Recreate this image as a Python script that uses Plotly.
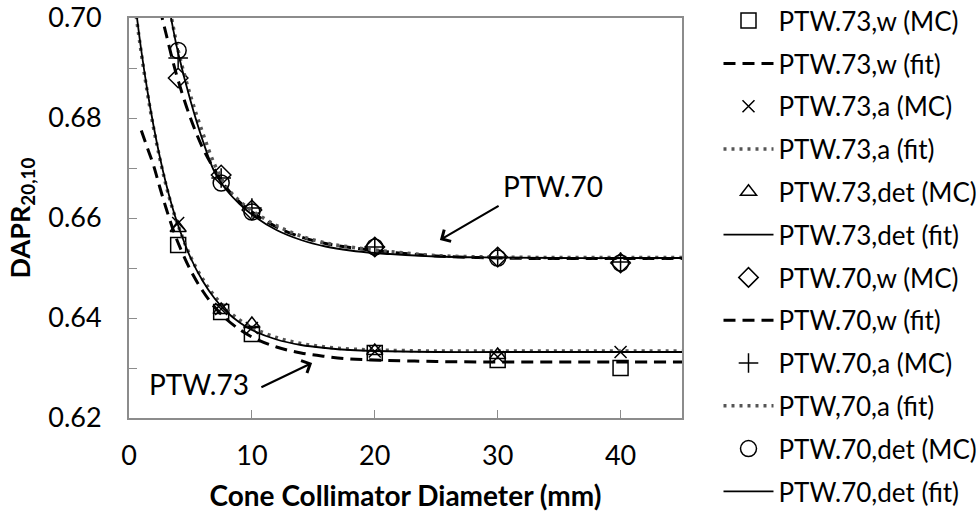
import plotly.graph_objects as go

# ---- data ----
cone_d = [4, 7.5, 10, 20, 30, 40]
cone_d73det = [4, 7.5, 10, 20, 30]

p73_w_mc = [0.6546, 0.6412, 0.6368, 0.6330, 0.6316, 0.6300]
p73_a_mc = [0.6590, 0.6418, 0.6380, 0.6333, 0.6322, 0.6332]
p73_det_mc = [0.6580, 0.6416, 0.6388, 0.6334, 0.6326]
p70_w_mc = [0.6880, 0.6686, 0.6616, 0.6542, 0.6522, 0.6510]
p70_a_mc = [0.6920, 0.6680, 0.6620, 0.6542, 0.6521, 0.6512]
p70_det_mc = [0.6935, 0.6670, 0.6612, 0.6542, 0.6520, 0.6510]

fit_x73 = [0.5, 1, 1.5, 2, 2.5, 3, 3.5, 4, 5, 6, 7, 8, 9, 10, 12, 14, 16, 18, 20, 25, 30, 35, 40, 45]
p73_det_fit = [0.7030, 0.6935, 0.6854, 0.6784, 0.6723, 0.6670, 0.6624, 0.6585, 0.6521, 0.6474, 0.6438,
               0.6411, 0.6391, 0.6376, 0.6357, 0.6346, 0.6340, 0.6336, 0.6334, 0.6332, 0.6332, 0.6332, 0.6332, 0.6332]
p73_a_fit = [0.7020, 0.6930, 0.6850, 0.6780, 0.6720, 0.6667, 0.6622, 0.6585, 0.6523, 0.6478, 0.6443,
             0.6416, 0.6396, 0.6381, 0.6361, 0.6349, 0.6342, 0.6338, 0.6336, 0.6334, 0.6334, 0.6334, 0.6334, 0.6334]
fit_x73w = [1, 1.5, 2, 2.5, 3, 3.5, 4, 5, 6, 7, 8, 9, 10, 12, 14, 16, 18, 20, 25, 30, 35, 40, 45]
p73_w_fit = [0.6775, 0.6740, 0.6705, 0.6662, 0.6621, 0.6583, 0.6550, 0.6496, 0.6454, 0.6421, 0.6396,
             0.6377, 0.6362, 0.6342, 0.6330, 0.6323, 0.6318, 0.6316, 0.6313, 0.6312, 0.6312, 0.6312, 0.6312]

fit_x70 = [2.5, 3, 3.5, 4, 5, 6, 7, 8, 9, 10, 12, 14, 16, 18, 20, 25, 30, 35, 40, 45]
p70_det_fit = [0.7140, 0.7060, 0.6990, 0.6930, 0.6835, 0.6755, 0.6690, 0.6654, 0.6628, 0.6607, 0.6576,
               0.6556, 0.6543, 0.6535, 0.6530, 0.6523, 0.6521, 0.6520, 0.6520, 0.6520]
p70_a_fit = [0.7140, 0.7060, 0.6995, 0.6935, 0.6845, 0.6770, 0.6705, 0.6660, 0.6634, 0.6615, 0.6585,
             0.6564, 0.6550, 0.6542, 0.6536, 0.6525, 0.6522, 0.6521, 0.6521, 0.6521]
p70_w_fit = [0.7020, 0.6970, 0.6920, 0.6875, 0.6800, 0.6740, 0.6695, 0.6658, 0.6632, 0.6612, 0.6582,
             0.6562, 0.6549, 0.6541, 0.6535, 0.6524, 0.6520, 0.6519, 0.6519, 0.6519]

x_ticks = [0, 10, 20, 30, 40]
y_ticks = [0.62, 0.64, 0.66, 0.68, 0.70]
y_ticktext = ["0.62", "0.64", "0.66", "0.68", "0.70"]

FONT = "Lato"
fig = go.Figure()

def mc(name, x, y, symbol, size):
    fig.add_trace(go.Scatter(x=x, y=y, mode="markers", name=name, legendgroup=name,
                             marker=dict(symbol=symbol, size=size, color="black",
                                         line=dict(color="black", width=1.5))))

def fit(name, x, y, style):
    if style == "dash":
        line = dict(color="black", width=3, dash="12px,7px", shape="spline")
    elif style == "dot":
        line = dict(color="#555555", width=3.5, dash="3px,5px", shape="spline")
    else:
        line = dict(color="black", width=1.8, shape="spline")
    fig.add_trace(go.Scatter(x=x, y=y, mode="lines", name=name, legendgroup=name, line=line))

mc("PTW.73,w (MC)", cone_d, p73_w_mc, "square-open", 15)
fit("PTW.73,w (fit)", fit_x73w, p73_w_fit, "dash")
mc("PTW.73,a (MC)", cone_d, p73_a_mc, "x-thin-open", 12)
fit("PTW.73,a (fit)", fit_x73, p73_a_fit, "dot")
mc("PTW.73,det (MC)", cone_d73det, p73_det_mc, "triangle-up-open", 14)
fit("PTW.73,det (fit)", fit_x73, p73_det_fit, "solid")
mc("PTW.70,w (MC)", cone_d, p70_w_mc, "diamond-open", 15)
fit("PTW.70,w (fit)", fit_x70, p70_w_fit, "dash")
mc("PTW.70,a (MC)", cone_d, p70_a_mc, "cross-thin-open", 14)
fit("PTW,70,a (fit)", fit_x70, p70_a_fit, "dot")
mc("PTW.70,det (MC)", cone_d, p70_det_mc, "circle-open", 16)
fit("PTW.70,det (fit)", fit_x70, p70_det_fit, "solid")

axis_common = dict(showline=True, linecolor="#8c8c8c", linewidth=2, mirror=True,
                   ticks="inside", tickcolor="#8c8c8c", ticklen=8, tickwidth=1,
                   showgrid=False, zeroline=False,
                   tickfont=dict(family=FONT, size=27, color="black"))

fig.update_xaxes(range=[0, 45], tickvals=x_ticks, ticklabelstandoff=13, **axis_common,
                 title=dict(text="<b>Cone Collimator Diameter (mm)</b>",
                            font=dict(family=FONT, size=28, color="black"), standoff=17))
fig.update_yaxes(range=[0.62, 0.70], tickvals=y_ticks, ticktext=y_ticktext,
                 ticklabelstandoff=20,
                 minor=dict(dtick=0.01, ticks="inside", ticklen=8, tickcolor="#8c8c8c"),
                 **axis_common,
                 title=dict(text="<b>DAPR<sub>20,10</sub></b>",
                            font=dict(family=FONT, size=27, color="black"), standoff=10))

ann_font = dict(family=FONT, size=28, color="black")
fig.add_annotation(x=34.5, y=0.6664, text="PTW.70", showarrow=False, font=ann_font)
fig.add_annotation(x=25.3, y=0.6556, ax=30.2, ay=0.6626, axref="x", ayref="y",
                   text="", showarrow=True, arrowhead=4, arrowsize=1.2, arrowwidth=2.2,
                   arrowcolor="black")
fig.add_annotation(x=5.7, y=0.6268, text="PTW.73", showarrow=False, font=ann_font)
fig.add_annotation(x=14.9, y=0.6310, ax=10.65, ay=0.6260, axref="x", ayref="y",
                   text="", showarrow=True, arrowhead=4, arrowsize=1.2, arrowwidth=2.2,
                   arrowcolor="black")

fig.update_layout(
    width=977, height=512,
    margin=dict(l=129, r=295, t=18, b=94, autoexpand=False),
    plot_bgcolor="white", paper_bgcolor="white",
    legend=dict(x=1.066, y=1.052, xanchor="left", yanchor="top",
                font=dict(family=FONT, size=26, color="black"),
                traceorder="grouped", tracegroupgap=6, itemwidth=50,
                maxheight=800, bgcolor="rgba(0,0,0,0)"),
)

fig.write_html("out.html")
